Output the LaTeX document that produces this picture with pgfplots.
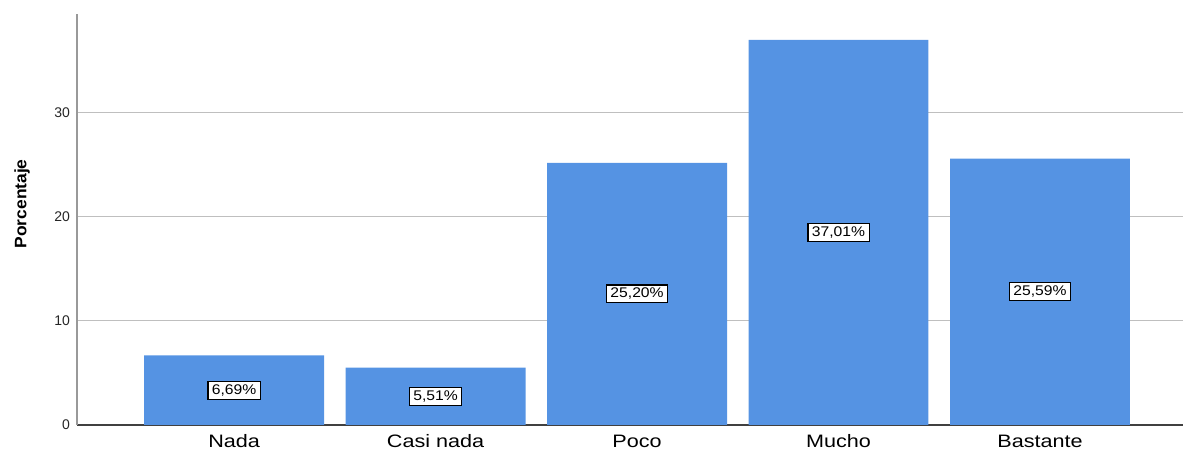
\documentclass[border=0pt]{standalone}
\usepackage{fontspec}
\setmainfont{Liberation Sans}
\newfontfamily\catfont[FakeStretch=1.2]{Liberation Sans}
\newfontfamily\lblfont[FakeStretch=1.12]{Liberation Sans}
\newfontfamily\ylabfont[FakeStretch=1.05]{Liberation Sans}
\usepackage{pgfplots}
\pgfplotsset{compat=1.18}
\definecolor{barblue}{RGB}{85,147,227}
\begin{document}
\begin{tikzpicture}
\begin{axis}[
  scale only axis, width=553pt, height=205.5pt,
  xmin=-0.78, xmax=4.71, ymin=0, ymax=39.5,
  axis x line*=bottom, axis y line*=left,
  x axis line style={draw=black!75, line width=0.6pt},
  y axis line style={draw=black!40, line width=1pt},
  xtick={0,1,2,3,4}, xticklabels={Nada,Casi nada,Poco,Mucho,Bastante},
  ytick={0,10,20,30},
  major tick length=0pt,
  ymajorgrids, grid style={black!25, line width=0.5pt},
  /pgf/number format/assume math mode=true,
  xticklabel style={font=\catfont\fontsize{9}{10}\selectfont, anchor=center, yshift=-8pt},
  yticklabel style={font=\fontsize{7}{8}\selectfont, text=black!85},
  ylabel={Porcentaje},
  ylabel style={font=\ylabfont\bfseries\fontsize{8.3}{9}\selectfont, at={(axis description cs:-0.0497,0.538)}, anchor=center, rotate=0},
  clip=false,
]
\addplot[ybar, bar width=0.893, fill=barblue, draw=none] coordinates {
  (0,6.69) (1,5.51) (2,25.20) (3,37.01) (4,25.59)
};
\addplot[draw=none, mark=none, nodes near coords, point meta=explicit symbolic,
  nodes near coords style={anchor=center, draw=black, fill=white, line width=0.6pt,
    inner xsep=2pt, inner ysep=1.6pt, font=\lblfont\fontsize{7}{8}\selectfont}] coordinates {
  (0,3.345)[6,69\%] (1,2.755)[5,51\%] (2,12.60)[25,20\%] (3,18.505)[37,01\%] (4,12.795)[25,59\%]
};
\end{axis}
\pgfresetboundingbox
\path ([shift={(-38.5pt,-13.5pt)}]current axis.south west) rectangle ([shift={(0.5pt,7pt)}]current axis.north east);
\end{tikzpicture}
\end{document}
